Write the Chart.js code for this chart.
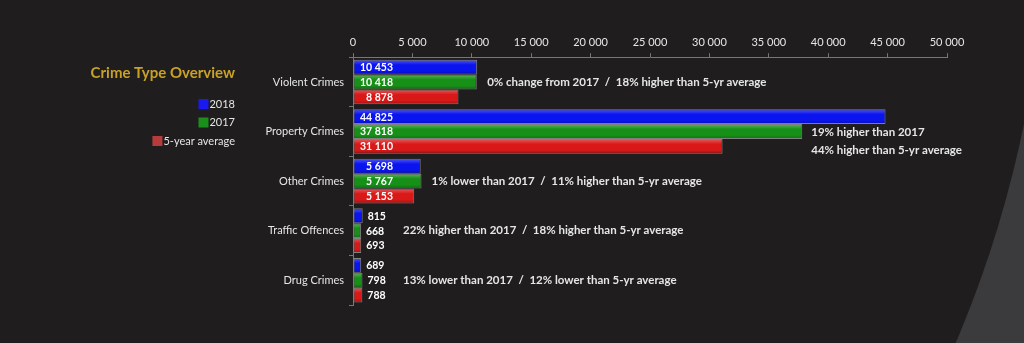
<!DOCTYPE html>
<html>
<head>
<meta charset="utf-8">
<script src="https://cdn.jsdelivr.net/npm/chart.js@4/dist/chart.umd.min.js"></script>
<style>
  html, body { margin: 0; padding: 0; background: #1f1d1e; }
  #wrap { width: 1024px; height: 343px; position: relative; }
</style>
</head>
<body>
<div id="wrap"><canvas id="crimeChart"></canvas></div>
<script>
// Chart data
const categories = ['Violent Crimes', 'Property Crimes', 'Other Crimes', 'Traffic Offences', 'Drug Crimes'];
const values2018 = [10453, 44825, 5698, 815, 689];
const values2017 = [10418, 37818, 5767, 668, 798];
const valuesAvg = [8878, 31110, 5153, 693, 788];
const xTicks = [0, 5000, 10000, 15000, 20000, 25000, 30000, 35000, 40000, 45000, 50000];
const notes = [
  ['0% change from 2017  /  18% higher than 5-yr average'],
  ['19% higher than 2017', '44% higher than 5-yr average'],
  ['1% lower than 2017  /  11% higher than 5-yr average'],
  ['22% higher than 2017  /  18% higher than 5-yr average'],
  ['13% lower than 2017  /  12% lower than 5-yr average']
];

const FONT = "Lato, 'Open Sans', sans-serif";
const TEXT = '#e6e6e6';

// format 10000 -> "10 000"
function fmt(n) {
  return String(n).replace(/\B(?=(\d{3})+(?!\d))/g, ' ');
}

// Background + decorative curve bottom right
const backdrop = {
  id: 'backdrop',
  beforeDraw(chart) {
    const ctx = chart.ctx;
    ctx.save();
    ctx.fillStyle = '#3b3a3c';
    ctx.fillRect(0, 0, chart.width, chart.height);
    ctx.fillStyle = '#1f1d1e';
    ctx.beginPath();
    ctx.arc(-92, -104, 1139, 0, Math.PI * 2);
    ctx.fill();
    ctx.restore();
  }
};

// Title and legend on the left
const sidePanel = {
  id: 'sidePanel',
  afterDraw(chart) {
    const ctx = chart.ctx;
    ctx.save();
    ctx.textAlign = 'right';
    ctx.textBaseline = 'middle';
    ctx.fillStyle = '#c8a227';
    ctx.font = "bold 15px " + FONT;
    ctx.fillText('Crime Type Overview', 235, 73);

    ctx.font = "11px " + FONT;
    chart.data.datasets.forEach((ds, i) => {
      const y = 104 + i * 18.5;
      const w = ctx.measureText(ds.label).width;
      ctx.fillStyle = ds.legendColor;
      ctx.fillRect(235 - w - 11, y - 5, 10, 10);
      ctx.fillStyle = TEXT;
      ctx.fillText(ds.label, 235, y);
    });
    ctx.restore();
  }
};

// Gloss on bars, value labels and notes
const barLabels = {
  id: 'barLabels',
  afterDatasetsDraw(chart) {
    const ctx = chart.ctx;
    const x0 = chart.scales.x.getPixelForValue(0);
    ctx.save();

    // 3D-ish shading on each bar
    chart.data.datasets.forEach((ds, di) => {
      chart.getDatasetMeta(di).data.forEach(bar => {
        const top = bar.y - bar.height / 2;
        const g = ctx.createLinearGradient(0, top, 0, top + bar.height);
        g.addColorStop(0, 'rgba(255,255,255,0.30)');
        g.addColorStop(0.35, 'rgba(255,255,255,0.0)');
        g.addColorStop(0.75, 'rgba(0,0,0,0.0)');
        g.addColorStop(1, 'rgba(0,0,0,0.25)');
        ctx.fillStyle = g;
        ctx.fillRect(x0 + 1, top + 1, bar.x - x0 - 2, bar.height - 2);
      });
    });

    ctx.textBaseline = 'middle';
    ctx.font = "bold 10.5px " + FONT;
    ctx.fillStyle = '#ffffff';
    chart.data.datasets.forEach((ds, di) => {
      const meta = chart.getDatasetMeta(di);
      meta.data.forEach((bar, i) => {
        const txt = fmt(ds.data[i]);
        if (bar.x - x0 > 45) {
          ctx.textAlign = 'right';
          ctx.fillText(txt, x0 + 40, bar.y + 0.5);
        } else {
          ctx.textAlign = 'left';
          ctx.fillText(txt, bar.x + 5, bar.y + 0.5);
        }
      });
    });

    // notes next to each group
    ctx.font = "bold 11.5px " + FONT;
    ctx.fillStyle = TEXT;
    ctx.textAlign = 'left';
    const m0 = chart.getDatasetMeta(0);
    const m1 = chart.getDatasetMeta(1);
    const m2 = chart.getDatasetMeta(2);
    categories.forEach((c, i) => {
      const lines = notes[i];
      if (lines.length > 1) {
        const x = m1.data[i].x + 9;
        ctx.fillText(lines[0], x, m1.data[i].y + 1);
        ctx.fillText(lines[1], x, m2.data[i].y + 4);
      } else {
        const maxX = Math.max(m0.data[i].x, m1.data[i].x, m2.data[i].x);
        const x = Math.max(maxX + 10, x0 + 50);
        ctx.fillText(lines[0], x, m1.data[i].y);
      }
    });
    ctx.restore();
  }
};

Chart.defaults.font.family = FONT;
Chart.defaults.color = TEXT;

new Chart(document.getElementById('crimeChart'), {
  type: 'bar',
  data: {
    labels: categories,
    datasets: [
      { label: '2018', data: values2018, backgroundColor: '#0a14ee', legendColor: '#1a1af0' },
      { label: '2017', data: values2017, backgroundColor: '#169016', legendColor: '#1b8f1b' },
      { label: '5-year average', data: valuesAvg, backgroundColor: '#d91818', legendColor: '#b83b3b' }
    ]
  },
  options: {
    indexAxis: 'y',
    responsive: true,
    maintainAspectRatio: false,
    animation: false,
    layout: { padding: { top: 32, right: 77, bottom: 38, left: 0 } },
    datasets: {
      bar: {
        categoryPercentage: 0.9,
        barPercentage: 1,
        borderColor: 'rgba(140,140,140,0.9)',
        borderWidth: 1,
        borderSkipped: false
      }
    },
    plugins: {
      legend: { display: false },
      tooltip: { enabled: false }
    },
    scales: {
      x: {
        position: 'top',
        min: 0,
        max: 50000,
        afterBuildTicks(scale) {
          scale.ticks = xTicks.map(v => ({ value: v }));
        },
        ticks: {
          color: TEXT,
          font: { size: 11 },
          padding: 4,
          callback: v => fmt(v)
        },
        grid: { display: true, drawOnChartArea: false, tickLength: 4, color: '#777' },
        border: { color: '#777' }
      },
      y: {
        afterFit(scale) { scale.width = 353; },
        ticks: { color: TEXT, font: { size: 11 }, padding: 5 },
        grid: { display: true, drawOnChartArea: false, offset: true, tickLength: 4, color: '#777' },
        border: { color: '#777' }
      }
    }
  },
  plugins: [backdrop, sidePanel, barLabels]
});
</script>
</body>
</html>
